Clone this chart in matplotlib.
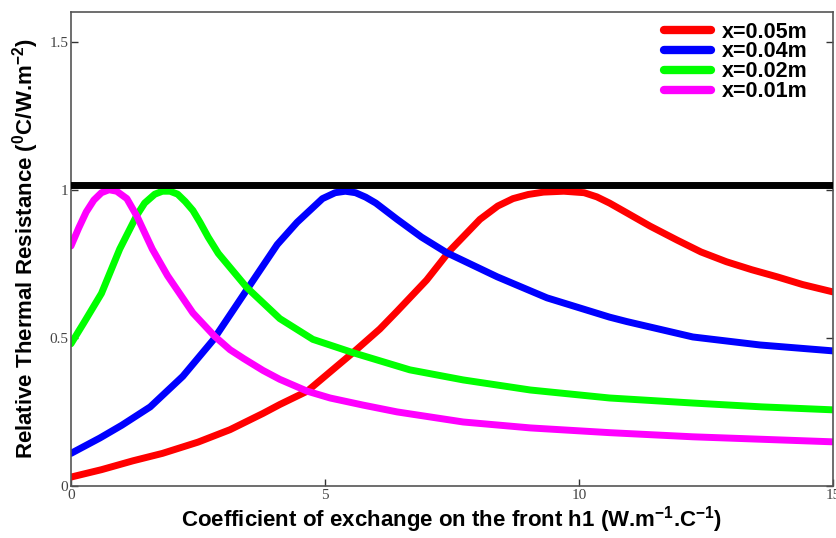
import matplotlib
matplotlib.use("Agg")
import matplotlib.pyplot as plt

# values
h_red = [0, 0.6, 1.22, 1.8, 2.5, 3.13, 3.78, 4.11, 4.65, 5.1, 5.55, 6.08, 6.42, 7.0,
         7.46, 8.05, 8.4, 8.7, 9.0, 9.3, 9.7, 10.1, 10.35, 10.6, 10.94, 11.4,
         11.93, 12.4, 12.9, 13.4, 13.9, 14.4, 15]
r_red = [0.03, 0.055, 0.085, 0.11, 0.148, 0.19, 0.245, 0.275, 0.32, 0.385, 0.45,
         0.53, 0.59, 0.695, 0.795, 0.90, 0.945, 0.97, 0.984, 0.992, 0.995, 0.99,
         0.976, 0.955, 0.922, 0.877, 0.83, 0.79, 0.757, 0.73, 0.706, 0.68, 0.655]

h_blue = [0, 0.57, 1.0, 1.56, 2.2, 2.8, 3.46, 4.06, 4.45, 4.7, 4.95, 5.2, 5.4, 5.6,
          5.8, 6.0, 6.42, 6.9, 7.4, 8.39, 9.37, 10.6, 10.94, 12.24, 13.56, 15]
r_blue = [0.11, 0.162, 0.205, 0.267, 0.37, 0.493, 0.662, 0.815, 0.89, 0.93, 0.97,
          0.99, 0.995, 0.99, 0.975, 0.955, 0.90, 0.84, 0.787, 0.706, 0.635, 0.57,
          0.555, 0.503, 0.476, 0.456]

h_green = [0, 0.25, 0.6, 0.96, 1.3, 1.45, 1.65, 1.8, 1.95, 2.1, 2.25, 2.4, 2.54,
           2.7, 2.9, 3.46, 4.11, 4.76, 5.55, 6.67, 7.72, 9.04, 10.6, 12.24, 13.6, 15]
r_green = [0.48, 0.55, 0.65, 0.80, 0.915, 0.955, 0.985, 0.995, 0.995, 0.985, 0.96,
           0.93, 0.89, 0.84, 0.785, 0.67, 0.565, 0.495, 0.45, 0.392, 0.358, 0.324,
           0.297, 0.28, 0.267, 0.257]

h_mag = [0, 0.15, 0.3, 0.45, 0.6, 0.75, 0.9, 1.1, 1.3, 1.6, 1.9, 2.4, 2.83, 3.13,
         3.4, 3.78, 4.11, 4.65, 5.1, 5.75, 6.42, 7.72, 9.04, 10.6, 12.24, 15]
r_mag = [0.81, 0.87, 0.925, 0.965, 0.99, 1.0, 0.995, 0.97, 0.91, 0.80, 0.71, 0.584,
         0.505, 0.46, 0.43, 0.39, 0.36, 0.32, 0.297, 0.273, 0.25, 0.216, 0.196,
         0.18, 0.166, 0.149]

ref_level = 1.015

series = [
    (h_red, r_red, "#ff0000", "x=0.05m"),
    (h_blue, r_blue, "#0000ff", "x=0.04m"),
    (h_green, r_green, "#00ff00", "x=0.02m"),
    (h_mag, r_mag, "#ff00ff", "x=0.01m"),
]

plt.rcParams["mathtext.fontset"] = "custom"
plt.rcParams["mathtext.rm"] = "Liberation Sans:bold"
plt.rcParams["mathtext.bf"] = "Liberation Sans:bold"

fig = plt.figure(figsize=(8.37, 5.38), dpi=100)
ax = fig.add_axes([0.0848, 0.0967, 0.9105, 0.881])

for h, r, color, label in series:
    ax.plot(h, r, color=color, lw=5, label=label, solid_capstyle="round",
            solid_joinstyle="round")

ax.axhline(ref_level, color="black", lw=5, zorder=5)

ax.set_xlim(0, 15)
ax.set_ylim(0, 1.6)
ax.set_xticks([0, 5, 10, 15])
ax.set_xticklabels(["0", "5", "10", "15"])
ax.set_yticks([0, 0.5, 1, 1.5])
ax.set_yticklabels(["0", "0.5", "1", "1.5"])
ax.tick_params(direction="in", length=5, width=1, pad=2, colors="#333333",
               labelsize=11, right=True)
for lab in ax.get_xticklabels() + ax.get_yticklabels():
    lab.set_family("Liberation Serif")
    lab.set_color("#444444")
for sp in ax.spines.values():
    sp.set_color("#555555")
    sp.set_linewidth(1.2)

ax.set_xlabel(r"Coefficient of exchange on the front h1 (W.m$^{-1}$.C$^{-1}$)",
              family="Liberation Sans", weight="bold", fontsize=16, labelpad=2)
ax.set_ylabel(r"Relative Thermal Resistance ($^{0}$C/W.m$^{-2}$)",
              family="Liberation Sans", weight="bold", fontsize=16, labelpad=6)

leg = ax.legend(loc="upper right", bbox_to_anchor=(0.978, 0.998), frameon=False,
                handlelength=2.2, handletextpad=0.5, labelspacing=-0.05,
                borderaxespad=0,
                prop={"family": "Liberation Sans", "weight": "bold", "size": 15.5})
for line in leg.get_lines():
    line.set_linewidth(6)
    line.set_solid_capstyle("round")

fig.savefig("out.png", dpi=100)
